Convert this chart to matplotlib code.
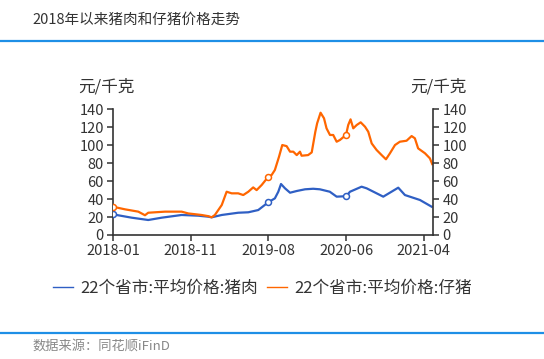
import matplotlib
matplotlib.use("Agg")
import matplotlib.pyplot as plt
from matplotlib.lines import Line2D

plt.rcParams['font.family'] = ['Noto Sans CJK SC', 'DejaVu Sans']

# weekly index (0 = 2018-01 first week), values in 元/千克
pork_weeks = [0, 10.3, 19.5, 27, 38, 47.2, 52.7, 54.6, 60.2, 69.3, 74.9, 80.4, 86,
              89.6, 91.5, 93, 95.2, 98, 101.7, 106.3, 110.8, 114.5, 120, 123.8, 129,
              131.2, 137.6, 140.4, 149.6, 157.9, 161.6, 169.9, 176.4]
pork_values = [23, 19.3, 16.7, 19.3, 22.3, 21.5, 20.4, 19.7, 22.3, 24.8, 25.3, 27.8, 36.5,
               40.8, 48.2, 56.8, 52, 47.1, 49, 50.9, 51.5, 50.9, 48.2, 42.7, 43.2,
               48.2, 53.8, 52, 42.7, 52.7, 44.5, 39, 31.5]

piglet_weeks = [0, 6.6, 14, 17.7, 19.5, 28.8, 38, 41.7, 49, 52.7, 54.6, 56.4, 60.2,
                62.9, 65.7, 69.3, 72.1, 74.9, 77.6, 79.5, 82.3, 86, 87.8, 89.6, 91.9,
                93.7, 96.1, 98, 99.8, 101.7, 103.5, 104.4, 108, 110, 112, 113, 114.9,
                116.8, 118.2, 120.1, 121.9, 123.8, 125.6, 129, 130.2, 131.5, 133,
                134.9, 137.1, 139.5, 141.3, 143.2, 145.9, 148.7, 151.1, 153.3, 156.1,
                158.8, 162.5, 165.3, 167.1, 168.9, 172.7, 175.4, 176.7]
piglet_values = [31.5, 28.6, 26, 22, 24.8, 26, 26, 24, 22.3, 21, 19.7, 22.3, 33.4,
                 48.2, 46.4, 46.4, 44.5, 48.2, 53, 50, 55.7, 65, 66.8, 72.4, 87.2,
                 100.2, 99, 92.8, 92.8, 89, 92.8, 88.3, 89, 92, 115, 124.4, 136.2,
                 130, 118.8, 111.4, 111.4, 103.9, 105.8, 111.5, 122.5, 128.8, 118.8,
                 122.5, 125.5, 120.6, 115, 102, 94.7, 89, 84.3, 91, 100.2,
                 103.9, 105, 110.2, 107.7, 96.5, 91, 85.4, 79]

marker_weeks = [0, 86, 129]
tick_weeks = [0, 43, 86, 129, 172]
tick_labels = ['2018-01', '2018-11', '2019-08', '2020-06', '2021-04']
y_ticks = [0, 20, 40, 60, 80, 100, 120, 140]

series_names = ['22个省市:平均价格:猪肉', '22个省市:平均价格:仔猪']
BLUE = '#2f5fc4'
ORANGE = '#ff6600'
TXT = '#333333'

fig = plt.figure(figsize=(5.44, 3.59), dpi=100)
ax = fig.add_axes([113/544, 1-235/359, (433.3-113)/544, (235-109.3)/359])

ax.plot(pork_weeks, pork_values, color=BLUE, lw=1.6, solid_joinstyle='round')
ax.plot(piglet_weeks, piglet_values, color=ORANGE, lw=1.6, solid_joinstyle='round')

def val_at(ws, vs, w):
    for i, x in enumerate(ws):
        if abs(x - w) < 1e-9:
            return vs[i]
    return None

for w in marker_weeks:
    for ws, vs, c in [(pork_weeks, pork_values, BLUE), (piglet_weeks, piglet_values, ORANGE)]:
        v = val_at(ws, vs, w)
        if v is not None:
            ax.plot([w], [v], marker='o', ms=4.3, mfc='white', mec=c, mew=1.1, zorder=5)

ax.set_xlim(0, 177.3)
ax.set_ylim(0, 140)
ax.set_xticks(tick_weeks)
ax.set_xticklabels(tick_labels)
ax.set_yticks(y_ticks)
ax.spines['top'].set_visible(False)
for s in ['left', 'right', 'bottom']:
    ax.spines[s].set_color(TXT)
    ax.spines[s].set_linewidth(1.2)
ax.tick_params(axis='both', direction='out', length=4.5, width=1.1, color=TXT,
               labelsize=10.5, labelcolor=TXT, pad=2)
ax.tick_params(axis='y', right=True, labelright=True)

fig.text(78/544, 1-87/359, '元/千克', fontsize=12, color=TXT, ha='left', va='center')
fig.text(467/544, 1-87/359, '元/千克', fontsize=12, color=TXT, ha='right', va='center')

# title & decorations
fig.text(32/544, 1-20/359, '2018年以来猪肉和仔猪价格走势', fontsize=10.5, color=TXT,
         ha='left', va='center')
fig.add_artist(Line2D([0, 1], [1-41/359, 1-41/359], color='#1e8fe6', lw=1.6))
fig.add_artist(Line2D([0, 1], [1-333/359, 1-333/359], color='#1e8fe6', lw=1.6))
fig.text(32/544, 1-346/359, '数据来源：同花顺iFinD', fontsize=9.5, color='#888888',
         ha='left', va='center')

handles = [Line2D([], [], color=BLUE, lw=1.0), Line2D([], [], color=ORANGE, lw=1.0)]
fig.legend(handles, series_names, loc='center', bbox_to_anchor=(262.5/544, 1-288/359),
           ncol=2, frameon=False, fontsize=12, handlelength=1.2, handletextpad=0.45,
           columnspacing=0.5, labelcolor=TXT, borderpad=0, borderaxespad=0)

fig.savefig('out.png', dpi=100)
